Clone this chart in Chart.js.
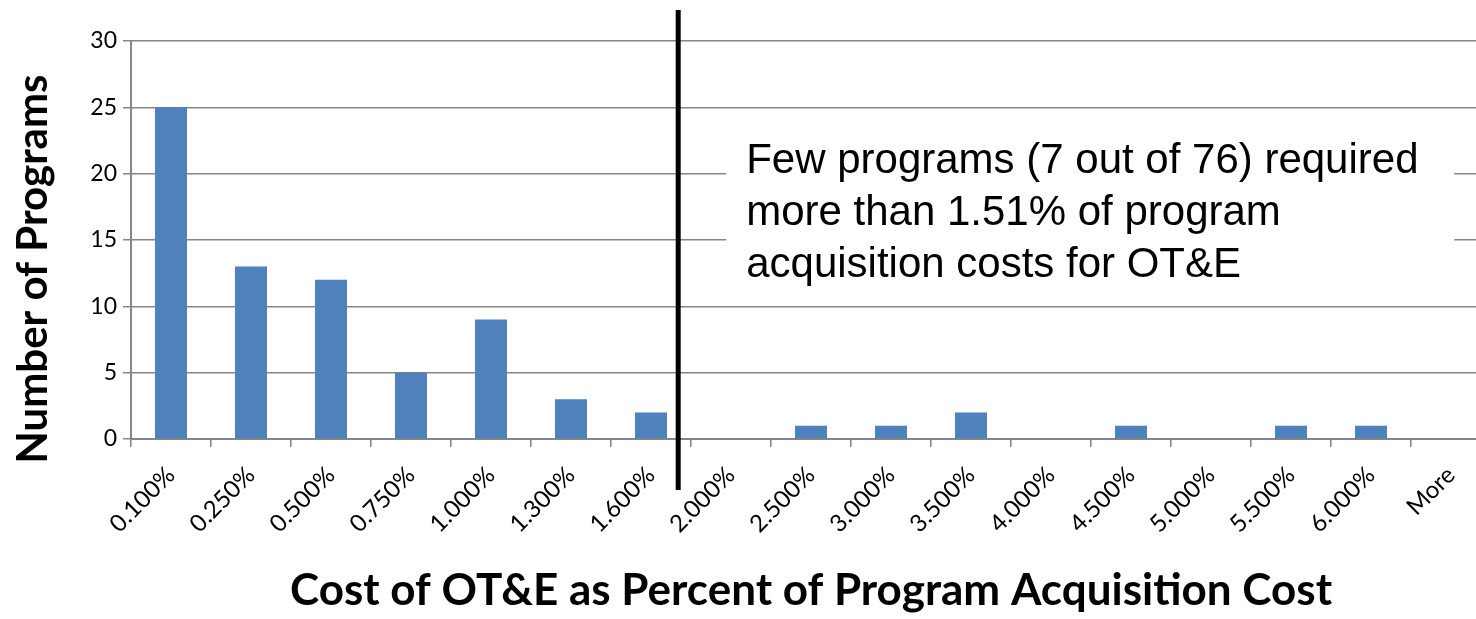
<!DOCTYPE html>
<html>
<head>
<meta charset="utf-8">
<script src="https://cdn.jsdelivr.net/npm/chart.js@4/dist/chart.umd.min.js"></script>
<style>
  html,body{margin:0;padding:0;background:#fff;overflow:hidden;}
  #wrap{width:1500px;height:619px;}
</style>
</head>
<body>
<div id="wrap"><canvas id="histChart" width="1500" height="619"></canvas></div>
<script>
const binLabels = ['0.100%','0.250%','0.500%','0.750%','1.000%','1.300%','1.600%','2.000%',
  '2.500%','3.000%','3.500%','4.000%','4.500%','5.000%','5.500%','6.000%','More'];
const programCounts = [25,13,12,5,9,3,2,0,1,1,2,0,1,0,1,1,0];
const yTicks = [0,5,10,15,20,25,30];
const yTitle = 'Number of Programs';
const noteLines = ['Few programs (7 out of 76) required','more than 1.51% of program','acquisition costs for OT&E'];
const cutoffBin = 6.34; // 1.51% threshold, in category units

const AXIS_GREY = '#868686';

const cutoffNote = {
  id:'cutoffNote',
  afterDraw(chart){
    const {ctx, chartArea, scales:{x}} = chart;
    const step = x.getPixelForValue(1) - x.getPixelForValue(0);
    const lx = x.getPixelForValue(0) + step*cutoffBin;
    ctx.save();
    // y title, drawn here so it can sit a little below the axis middle like the original
    ctx.translate(33, chartArea.top + 228);
    ctx.rotate(-Math.PI/2);
    ctx.fillStyle = '#000';
    ctx.font = 'bold 42px Lato';
    ctx.textAlign = 'center';
    ctx.textBaseline = 'middle';
    ctx.fillText(yTitle, 0, 0);
    ctx.restore();

    ctx.save();
    // white text box over the grid
    const bx = lx + 48, by = chartArea.top + 72;
    ctx.fillStyle = '#fff';
    ctx.fillRect(bx, by, 728, 188);
    ctx.fillStyle = '#000';
    ctx.font = '42px "Liberation Sans", Arial, sans-serif';
    ctx.textBaseline = 'alphabetic';
    noteLines.forEach((s,i)=>ctx.fillText(s, bx+20, by+60+i*52));
    // vertical cutoff line
    ctx.strokeStyle = '#000';
    ctx.lineWidth = 5;
    ctx.beginPath();
    ctx.moveTo(lx, 10);
    ctx.lineTo(lx, 490);
    ctx.stroke();
    ctx.restore();
  }
};

new Chart(document.getElementById('histChart').getContext('2d'), {
  type:'bar',
  data:{ labels:binLabels, datasets:[{ label:'Frequency', data:programCounts,
    backgroundColor:'#4F81BD', borderWidth:0, categoryPercentage:1, barPercentage:0.4 }] },
  options:{
    responsive:false, animation:false,
    layout:{ padding:{ left:0, right:9, top:41, bottom:0 } },
    plugins:{ legend:{display:false}, tooltip:{enabled:false} },
    scales:{
      x:{
        grid:{ drawOnChartArea:false, offset:true, tickLength:8, color:AXIS_GREY, lineWidth:1.5 },
        border:{ color:AXIS_GREY, width:2 },
        ticks:{ color:'#000', font:{ family:'Lato', size:24 }, minRotation:45, maxRotation:45, padding:14 },
        title:{ display:true, text:'Cost of OT&E as Percent of Program Acquisition Cost', color:'#000',
          font:{ family:'Lato', size:44, weight:'bold' }, padding:{top:0,bottom:2} },
        afterFit(s){ s.height = 180; }
      },
      y:{
        min:0, max:30,
        afterBuildTicks(s){ s.ticks = yTicks.map(v=>({value:v})); },
        grid:{ color:AXIS_GREY, lineWidth:1.5, tickLength:8 },
        border:{ color:AXIS_GREY, width:2 },
        ticks:{ color:'#000', font:{ family:'Lato', size:23 }, padding:6 },
        afterFit(s){ s.width = 131; }
      }
    }
  },
  plugins:[cutoffNote]
});
</script>
</body>
</html>
